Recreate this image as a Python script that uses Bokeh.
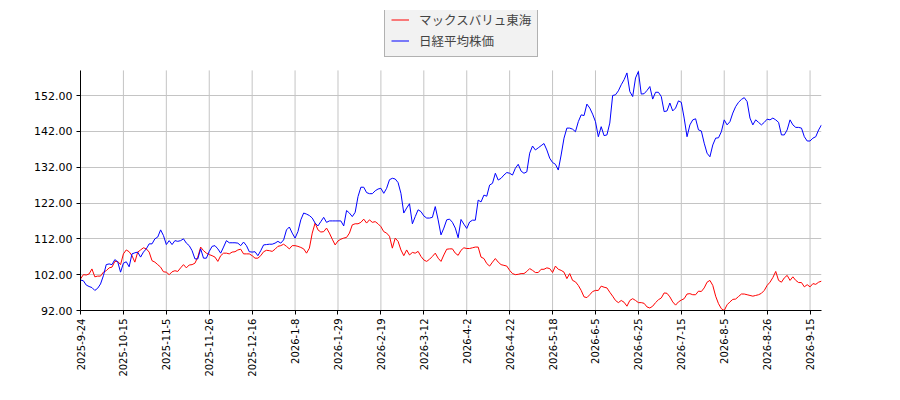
from math import pi

from bokeh.plotting import figure
from bokeh.models import (ColumnDataSource, Range1d, FixedTicker, PrintfTickFormatter,
                          Legend, LegendItem)
from bokeh.embed import file_html
from bokeh.resources import INLINE

# tick labels, one every 15 trading days
tick_labels = ["2025-9-24", "2025-10-15", "2025-11-5", "2025-11-26", "2025-12-16",
               "2026-1-8", "2026-1-29", "2026-2-19", "2026-3-12", "2026-4-2",
               "2026-4-22", "2026-5-18", "2026-6-5", "2026-6-25", "2026-7-15",
               "2026-8-5", "2026-8-26", "2026-9-15"]

# マックスバリュ東海 (indexed, start = 100)
maxvalu = [
    100.8, 102.0, 101.9, 102.2, 103.6, 101.4, 101.6, 101.6, 102.7, 103.1,
    103.9, 104.1, 105.7, 105.7, 104.8, 107.8, 108.9, 108.4, 107.3, 105.5,
    108.3, 108.9, 109.5, 109.2, 108.3, 105.9, 105.5, 104.8, 104.1, 102.8,
    102.7, 102.0, 102.8, 103.1, 102.9, 103.9, 104.8, 103.9, 104.7, 104.8,
    105.2, 106.9, 109.7, 108.7, 108.0, 107.6, 107.3, 106.9, 105.7, 107.3,
    108.0, 108.0, 107.8, 108.3, 108.4, 108.9, 109.1, 107.8, 107.8, 107.8,
    107.3, 106.6, 106.6, 107.3, 108.4, 108.8, 108.7, 108.5, 109.1, 109.9,
    110.1, 110.5, 109.9, 109.2, 110.1, 110.1, 109.9, 109.6, 109.2, 108.0,
    109.4, 113.6, 116.4, 114.5, 113.9, 114.0, 115.0, 113.6, 111.9, 110.3,
    111.4, 111.9, 112.2, 112.4, 113.6, 115.9, 116.2, 116.2, 116.6, 117.5,
    116.4, 117.3, 116.6, 116.8, 116.2, 115.4, 114.0, 113.6, 112.7, 109.4,
    112.2, 111.3, 108.9, 107.3, 108.9, 107.5, 108.2, 108.0, 108.5, 107.1,
    106.1, 105.7, 106.3, 107.1, 108.0, 106.6, 105.7, 107.5, 109.1, 109.2,
    109.2, 108.0, 107.4, 108.8, 109.5, 109.3, 109.3, 109.5, 109.7, 109.7,
    106.9, 106.5, 105.1, 104.4, 105.5, 106.5, 105.5, 104.8, 104.6, 104.4,
    103.2, 102.3, 102.0, 102.1, 102.3, 102.3, 102.9, 103.7, 103.2, 102.6,
    102.6, 103.5, 103.5, 103.9, 103.7, 102.6, 104.4, 103.5, 103.2, 102.7,
    100.9, 102.3, 100.4, 100.0, 99.0, 97.6, 95.8, 95.6, 96.4, 97.3,
    97.6, 97.6, 98.8, 98.5, 98.3, 97.1, 96.0, 94.8, 94.2, 94.8,
    94.3, 93.2, 94.8, 95.3, 94.8, 94.2, 94.2, 94.0, 93.0, 92.7,
    93.2, 94.2, 95.0, 95.5, 96.9, 96.8, 95.8, 94.4, 93.5, 94.4,
    94.9, 95.3, 96.6, 96.7, 96.4, 96.4, 97.4, 97.3, 98.3, 99.9,
    100.4, 99.0, 96.0, 93.9, 92.5, 92.0, 93.6, 94.4, 95.1, 95.2,
    95.9, 96.6, 96.6, 96.4, 96.2, 96.0, 96.2, 96.4, 96.8, 97.6,
    99.0, 99.9, 101.2, 102.9, 100.4, 99.9, 101.1, 101.8, 100.4, 101.4,
    100.4, 99.8, 99.8, 98.6, 99.2, 98.6, 99.5, 99.3, 99.9, 100.2,
]

# 日経平均株価 (indexed, start = 100)
nikkei = [
    100.5, 100.3, 99.1, 98.7, 98.4, 97.6, 98.2, 99.4, 101.7, 104.8,
    105.0, 104.8, 106.2, 105.6, 102.7, 105.2, 105.6, 104.2, 107.8, 108.1,
    108.3, 106.9, 108.3, 109.2, 110.6, 110.6, 112.0, 112.5, 114.5, 112.9,
    110.4, 111.5, 110.4, 111.5, 111.3, 111.5, 112.0, 110.8, 110.1, 108.7,
    106.4, 106.4, 109.2, 106.6, 106.6, 108.5, 109.9, 110.1, 109.2, 108.0,
    109.7, 111.5, 110.9, 110.9, 110.9, 110.8, 110.1, 111.1, 110.1, 108.4,
    108.3, 108.4, 107.3, 108.7, 110.3, 110.4, 110.5, 110.5, 110.8, 111.3,
    110.8, 111.7, 114.5, 115.3, 113.6, 112.2, 114.0, 117.3, 119.2, 118.9,
    118.5, 117.8, 116.4, 115.6, 116.8, 118.0, 116.6, 117.0, 117.0, 117.0,
    117.0, 117.0, 115.6, 119.9, 119.2, 118.2, 119.4, 123.8, 126.4, 126.4,
    124.9, 124.6, 124.6, 125.4, 125.9, 126.1, 124.7, 126.1, 128.5, 128.9,
    128.7, 127.7, 124.7, 119.2, 120.6, 121.8, 116.2, 118.2, 120.1, 119.6,
    118.4, 117.8, 117.8, 118.0, 121.0, 117.3, 113.1, 115.0, 117.3, 117.5,
    116.6, 115.0, 112.3, 117.4, 116.1, 114.9, 116.7, 117.2, 117.2, 122.8,
    122.3, 124.2, 123.9, 127.0, 127.5, 130.3, 128.4, 128.9, 129.8, 130.5,
    130.3, 129.8, 131.7, 132.8, 130.9, 130.3, 130.7, 135.9, 137.9, 136.8,
    137.4, 138.0, 138.6, 136.8, 134.5, 133.3, 132.8, 131.2, 135.4, 140.1,
    142.9, 142.9, 142.6, 141.9, 144.7, 146.6, 146.4, 149.6, 148.5, 146.8,
    144.7, 140.5, 143.3, 140.8, 141.0, 144.3, 152.0, 152.2, 153.3, 155.0,
    156.4, 158.3, 153.1, 151.7, 156.9, 158.7, 152.4, 152.5, 153.4, 154.5,
    151.0, 152.9, 152.9, 151.7, 147.5, 147.7, 149.9, 147.7, 148.5, 150.5,
    150.1, 145.7, 140.5, 143.8, 145.2, 145.5, 142.4, 142.1, 138.7, 135.9,
    134.9, 138.2, 140.1, 140.2, 141.9, 145.2, 143.8, 144.7, 147.1, 148.9,
    150.1, 150.9, 151.4, 150.3, 145.7, 143.8, 145.2, 144.5, 143.8, 144.5,
    145.4, 145.2, 145.7, 145.2, 144.5, 141.0, 141.0, 142.4, 145.2, 143.8,
    143.1, 143.1, 142.9, 140.5, 139.3, 139.3, 140.1, 140.5, 142.4, 143.8,
]

y_ticks = [92, 102, 112, 122, 132, 142, 152]
y_min, y_max = 92, 159

idx = list(range(len(nikkei)))
source = ColumnDataSource(data=dict(i=idx, maxvalu=maxvalu, nikkei=nikkei))

# the frame reaches up to the legend so the legend is not clipped;
# axis line and vertical grid stop at y_max like the original axes box
border_top, border_bottom = 10, 90
px_per_unit = 215 / 60
frame_h = 400 - border_top - border_bottom
y_top = y_min + frame_h / px_per_unit

p = figure(width=900, height=400, output_backend="svg", toolbar_location=None,
           x_range=Range1d(0, len(idx) - 1), y_range=Range1d(y_min, y_top),
           min_border_left=80, min_border_right=79, min_border_top=border_top,
           min_border_bottom=border_bottom)
p.outline_line_color = None
p.background_fill_color = "white"

# axes
tick_pos = list(range(0, 15 * len(tick_labels), 15))
p.xaxis.ticker = FixedTicker(ticks=tick_pos)
p.xaxis.major_label_overrides = {t: lab for t, lab in zip(tick_pos, tick_labels)}
p.xaxis.major_label_orientation = pi / 2
p.yaxis.ticker = FixedTicker(ticks=y_ticks)
p.yaxis.formatter = PrintfTickFormatter(format="%.2f")
p.yaxis.bounds = (y_min, y_max)

for ax in (p.xaxis, p.yaxis):
    ax.major_label_text_font = "DejaVu Sans"
    ax.major_label_text_color = "black"
    ax.axis_line_color = "black"
    ax.major_tick_line_color = "black"
    ax.major_tick_out = 4
    ax.major_tick_in = 0
    ax.minor_tick_line_color = None
    ax.major_label_standoff = 4
p.xaxis.major_label_text_font_size = "10px"
p.yaxis.major_label_text_font_size = "11px"

grid_color = "#c4c4c4"
p.ygrid.grid_line_color = grid_color
p.xgrid.grid_line_color = None
p.segment(x0=tick_pos, y0=[y_min] * len(tick_pos), x1=tick_pos,
          y1=[y_max] * len(tick_pos), line_color=grid_color, line_width=1,
          level="underlay")

# lines
r1 = p.line("i", "maxvalu", source=source, line_color="#ff0000", line_width=1)
r2 = p.line("i", "nikkei", source=source, line_color="#0000ff", line_width=1)

legend = Legend(items=[LegendItem(label="マックスバリュ東海", renderers=[r1]),
                       LegendItem(label="日経平均株価", renderers=[r2])],
                location=(304, 253), orientation="vertical")
legend.label_text_font = "Noto Sans CJK JP"
legend.label_text_font_size = "12.5px"
legend.label_height = 15
legend.glyph_height = 15
legend.glyph_width = 18
legend.label_standoff = 10
legend.spacing = 2
legend.padding = 6
legend.margin = 0
legend.border_line_color = "#707070"
legend.border_line_width = 1
legend.background_fill_color = "#f2f2f2"
legend.background_fill_alpha = 1
p.add_layout(legend, "center")

open("out.html", "w").write(file_html(p, INLINE))
